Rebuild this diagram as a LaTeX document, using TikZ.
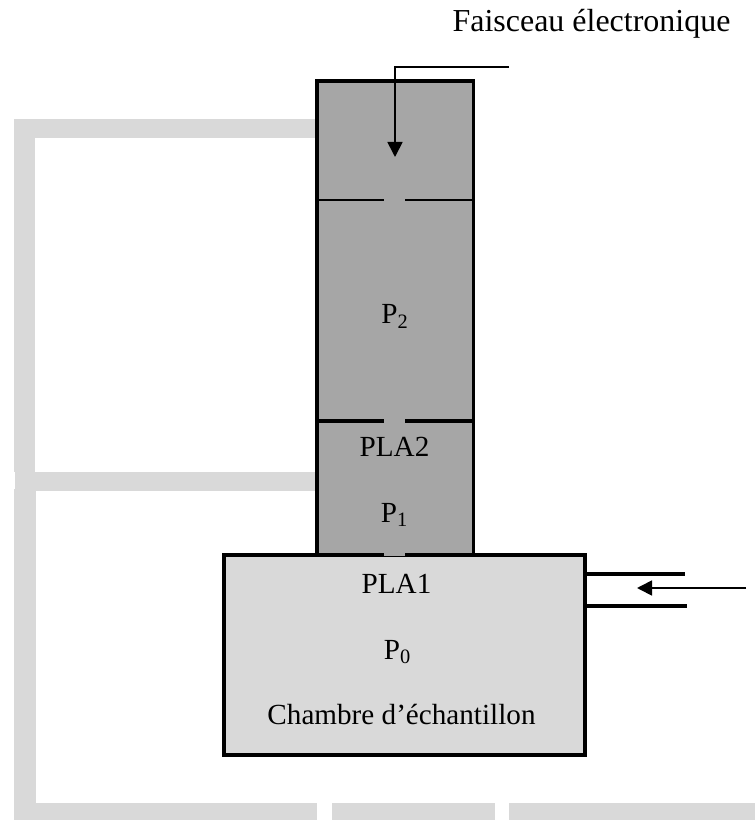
\documentclass[tikz,border=0pt]{standalone}
\usepackage{fontspec}
\setmainfont{Liberation Serif}
\usetikzlibrary{arrows.meta}
\definecolor{tubegray}{HTML}{A6A6A6}
\definecolor{pipegray}{HTML}{D9D9D9}
\tikzset{
  label/.style={font=\fontsize{16.6}{20}\selectfont,inner sep=0pt,anchor=base},
  wall/.style={line width=0.07cm},
  pipe/.style={fill=pipegray,draw=none},
  beam/.style={line width=0.035cm,-{Triangle[length=0.3cm,width=0.3cm]}},
}
\begin{document}
\begin{tikzpicture}[x=0.02cm,y=-0.02cm]
\useasboundingbox (0,0) rectangle (755,820);
% pumping lines
\fill [pipe] (14,119) rectangle (316,138);
\fill [pipe] (14,119) rectangle (35,472);
\fill [pipe] (15,472) rectangle (316,491);
\fill [pipe] (14,489) rectangle (36,820);
\fill [pipe] (36,803) rectangle (317,820);
\fill [pipe] (332,803) rectangle (495,820);
\fill [pipe] (509,803) rectangle (755,820);
% column
\draw [wall,fill=tubegray] (317,81) rectangle (473.5,555);
\draw [line width=0.04cm] (317,200) -- (384,200) (405,200) -- (473.5,200);
\draw [wall] (317,421) -- (384,421) (405,421) -- (473.5,421);
% chamber
\draw [wall,fill=pipegray] (224,555) rectangle (585,755);
\fill [tubegray] (384,553) rectangle (405,555.5);
% inlet
\draw [wall] (585,574) -- (685,574);
\draw [wall] (585,606) -- (687,606);
\coordinate (inletstart) at (746,588);
\coordinate (inletend) at (637,588);
\draw [beam] (inletstart) -- (inletend);
\coordinate (beamstart) at (509,67);
\coordinate (beambend) at (395,67);
\coordinate (beamend) at (395,157);
\draw [beam] (beamstart) -- (beambend) -- (beamend);
% labels
\node [label,font=\fontsize{18.2}{22}\selectfont] (faisceau) at (591.5,32) {Faisceau électronique};
\node [label] (ptwo) at (395,323.5) {P\textsubscript{2}};
\node [label] (plaB) at (394.5,456) {PLA2};
\node [label] (pone) at (394.5,522) {P\textsubscript{1}};
\node [label] (plaA) at (396.5,593) {PLA1};
\node [label] (pzero) at (397.5,659) {P\textsubscript{0}};
\node [label] (chambre) at (401.5,724) {Chambre d’échantillon};
\end{tikzpicture}
\end{document}
